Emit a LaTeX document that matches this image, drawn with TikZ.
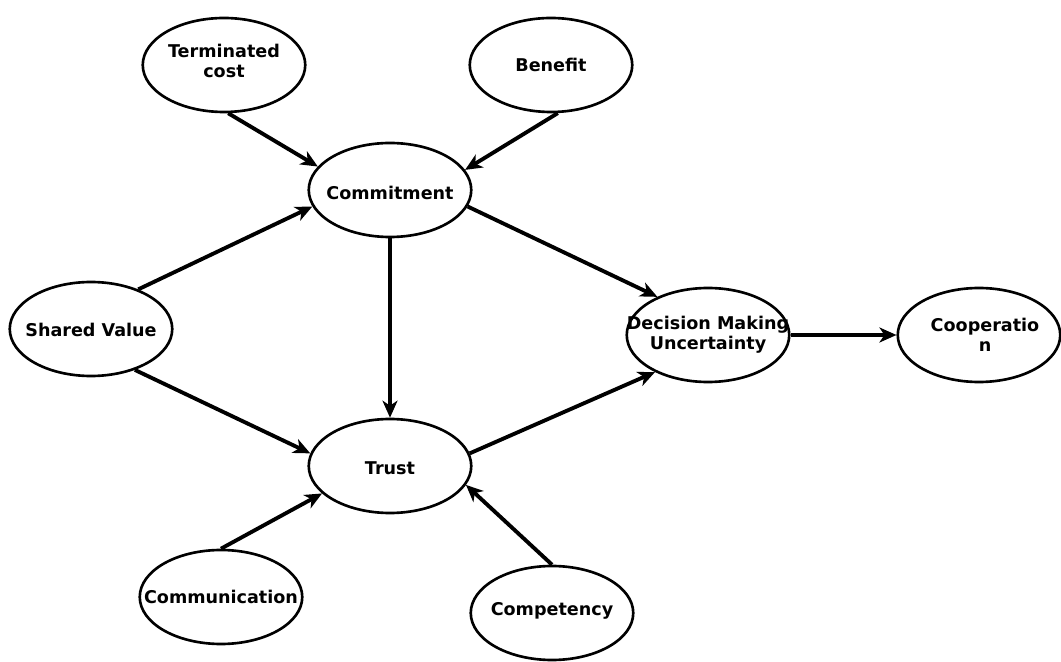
\documentclass[tikz,border=0pt]{standalone}
\usepackage{fontspec}
\setmainfont{DejaVu Sans}
\usepackage{tikz}
\usetikzlibrary{shapes.geometric, arrows.meta}

\begin{document}
\begin{tikzpicture}[
  ell/.style={ellipse, draw, line width=1.5pt, inner sep=0pt, minimum width=3.25cm, minimum height=1.88cm},
  txt/.style={font=\bfseries\fontsize{10}{11.5}\selectfont, align=center, inner sep=0pt},
  arr/.style={-{Stealth[length=0.34cm, width=0.3cm, inset=0.1cm]}, line width=2.2pt}
]
\useasboundingbox (0,0) rectangle (21.22,13.22);

% Top row
\node[ell] (tc) at (4.48,11.92) {};
\node[txt] (tc-l) at (4.48,12.0) {Terminated\\cost};
\node[ell] (ben) at (11.02,11.92) {};
\node[txt] (ben-l) at (11.02,11.92) {Benefit};

% Middle
\node[ell] (com) at (7.8,9.42) {};
\node[txt] (com-l) at (7.8,9.36) {Commitment};
\node[ell] (sv) at (1.82,6.64) {};
\node[txt] (sv-l) at (1.82,6.62) {Shared Value};
\node[ell] (dmu) at (14.16,6.52) {};
\node[txt] (dmu-l) at (14.16,6.52) {Decision Making\\Uncertainty};
\node[ell] (coop) at (19.58,6.52) {};
\node[txt] (coop-l) at (19.7,6.52) {Cooperatio\\n};
\node[ell] (trust) at (7.8,3.9) {};
\node[txt] (trust-l) at (7.8,3.86) {Trust};

% Bottom row
\node[ell] (comm) at (4.42,1.28) {};
\node[txt] (comm-l) at (4.42,1.28) {Communication};
\node[ell] (comp) at (11.04,0.96) {};
\node[txt] (comp-l) at (11.04,1.0) {Competency};

% Arrows
\draw[arr] (tc.-85) -- (com.162);
\draw[arr] (ben.-82) -- (com.15);
\draw[arr] (sv.40) -- (com.192);
\draw[arr] (com.-12) -- (dmu.143);
\draw[arr] (com.south) -- (trust.north);
\draw[arr] (sv.-43) -- (trust.171);
\draw[arr] (trust.9) -- (dmu.215);
\draw[arr] (dmu.east) -- (coop.west);
\draw[arr] (comm.north) -- (trust.202);
\draw[arr] (comp.north) -- (trust.-14);
\end{tikzpicture}
\end{document}
